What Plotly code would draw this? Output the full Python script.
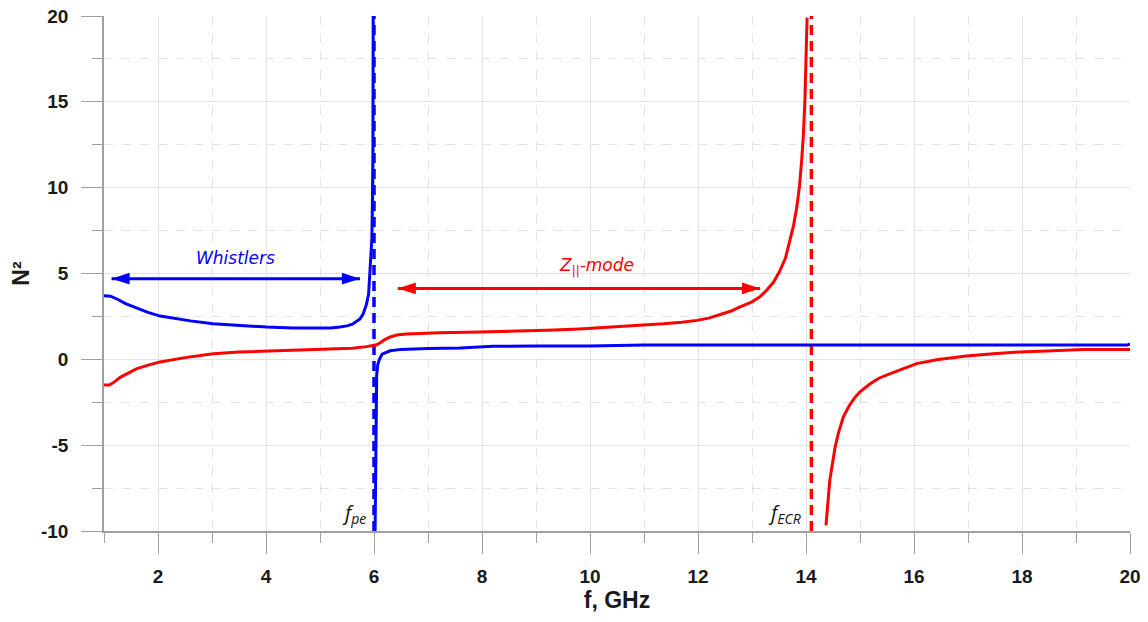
import plotly.graph_objects as go

# ---------------- data ----------------
blue_upper_f = [1.0, 1.12, 1.25, 1.4, 1.6, 1.8, 2.04, 2.3, 2.6, 3.02, 3.5, 4.02, 4.5, 4.9, 5.2,
                5.37, 5.5, 5.6, 5.68, 5.74, 5.8, 5.86, 5.9, 5.94, 5.96, 5.97, 5.98, 5.985]
blue_upper_n = [3.7, 3.68, 3.5, 3.25, 3.0, 2.75, 2.52, 2.38, 2.24, 2.07, 1.96, 1.88, 1.83, 1.81, 1.82,
                1.88, 1.95, 2.05, 2.2, 2.35, 2.65, 3.2, 3.8, 5.6, 7.0, 9.0, 12.0, 20.0]

blue_lower_f = [6.02, 6.03, 6.04, 6.05, 6.07, 6.1, 6.15, 6.24, 6.3, 6.5, 6.73, 7.0, 7.6, 8.2, 9.0,
                10.0, 11.0, 12.0, 14.0, 16.0, 18.0, 19.95, 20.0]
blue_lower_n = [-10.0, -6.0, -2.4, -0.9, -0.3, 0.0, 0.3, 0.43, 0.5, 0.58, 0.62, 0.63, 0.66, 0.76, 0.77,
                0.78, 0.84, 0.84, 0.83, 0.83, 0.83, 0.83, 0.9]

red_lower_f = [1.0, 1.1, 1.2, 1.3, 1.45, 1.6, 1.8, 2.04, 2.5, 3.02, 3.5, 4.01, 4.5, 5.0, 5.37, 5.6,
               5.86, 5.95, 6.05, 6.11, 6.2, 6.3, 6.42, 6.6, 6.85, 7.2, 7.96, 8.6, 9.2, 9.8, 10.43,
               10.9, 11.36, 11.7, 11.98, 12.2, 12.41, 12.6, 12.78, 13.0, 13.15, 13.27, 13.4, 13.52,
               13.62, 13.7, 13.77, 13.83, 13.88, 13.92, 13.95, 13.98, 14.0, 14.02]
red_lower_n = [-1.5, -1.5, -1.3, -1.05, -0.8, -0.55, -0.35, -0.15, 0.1, 0.33, 0.42, 0.48, 0.53, 0.58,
               0.6, 0.65, 0.74, 0.78, 0.85, 0.95, 1.15, 1.3, 1.42, 1.48, 1.52, 1.55, 1.59, 1.63, 1.69,
               1.77, 1.88, 1.97, 2.07, 2.16, 2.27, 2.4, 2.6, 2.8, 3.05, 3.35, 3.65, 4.02, 4.5, 5.18,
               5.9, 6.93, 7.8, 8.87, 10.1, 11.6, 13.0, 15.1, 17.5, 19.9]

red_upper_f = [14.37, 14.4, 14.44, 14.54, 14.6, 14.69, 14.8, 14.91, 15.0, 15.19, 15.35, 15.56, 15.74,
               16.05, 16.42, 16.97, 17.47, 17.96, 18.46, 19.14, 20.0]
red_upper_n = [-9.67, -8.3, -7.05, -5.1, -4.3, -3.36, -2.7, -2.2, -1.9, -1.42, -1.1, -0.83, -0.6,
               -0.25, -0.02, 0.2, 0.33, 0.43, 0.48, 0.57, 0.57]

f_pe = 6.0
f_ecr = 14.1
y_span = [-10, 20]

whistler_arrow_f = [1.14, 5.74]
whistler_arrow_n = [4.7, 4.7]
zmode_arrow_f = [6.44, 13.15]
zmode_arrow_n = [4.13, 4.13]

x_range = [1, 20]
y_range = [-10, 20]
x_tickvals = [2, 4, 6, 8, 10, 12, 14, 16, 18, 20]
x_ticktext = ["2", "4", "6", "8", "10", "12", "14", "16", "18", "20"]
y_tickvals = [-10, -5, 0, 5, 10, 15, 20]
y_ticktext = ["-10", "-5", "0", "5", "10", "15", "20"]

BLUE = "#0000ff"
RED = "#ff0000"
GRID = "#e3e3e3"
AXC = "#a0a0a0"

fig = go.Figure()

# resonance lines
fig.add_trace(go.Scatter(x=[f_pe, f_pe], y=y_span, mode="lines",
                         line=dict(color=BLUE, width=3.5, dash="10px,6px"), hoverinfo="skip"))
fig.add_trace(go.Scatter(x=[f_ecr, f_ecr], y=y_span, mode="lines",
                         line=dict(color=RED, width=3.5, dash="10px,6px"), hoverinfo="skip"))

for fx, ny, c in [(blue_upper_f, blue_upper_n, BLUE), (blue_lower_f, blue_lower_n, BLUE),
                  (red_lower_f, red_lower_n, RED), (red_upper_f, red_upper_n, RED)]:
    fig.add_trace(go.Scatter(x=fx, y=ny, mode="lines", line=dict(color=c, width=3)))

# double-headed arrows
for fx, ny, c in [(whistler_arrow_f, whistler_arrow_n, BLUE), (zmode_arrow_f, zmode_arrow_n, RED)]:
    fig.add_trace(go.Scatter(x=fx, y=ny, mode="lines", line=dict(color=c, width=3)))
fig.add_trace(go.Scatter(x=whistler_arrow_f, y=whistler_arrow_n, mode="markers",
                         marker=dict(symbol="arrow", angle=[270, 90], size=19, color=BLUE,
                                     line=dict(width=0))))
fig.add_trace(go.Scatter(x=zmode_arrow_f, y=zmode_arrow_n, mode="markers",
                         marker=dict(symbol="arrow", angle=[270, 90], size=19, color=RED,
                                     line=dict(width=0))))

ann_font = "DejaVu Sans, sans-serif"
lab_font = "Open Sans, Noto Sans, sans-serif"
fig.add_annotation(x=3.44, y=5.9, text="<i>Whistlers</i>", showarrow=False,
                   font=dict(family=ann_font, size=17, color=BLUE))
fig.add_annotation(x=10.12, y=5.42, text="<i>Z<sub>||</sub>-mode</i>", showarrow=False,
                   font=dict(family=ann_font, size=17, color=RED))
fig.add_annotation(x=f_pe, y=-9.0, text="<i>f<sub>pe</sub></i>", showarrow=False,
                   xanchor="right", xshift=-6,
                   font=dict(family=lab_font, size=20, color="#111111"))
fig.add_annotation(x=f_ecr, y=-9.0, text="<i>f<sub>ECR</sub></i>", showarrow=False,
                   xanchor="right", xshift=-8,
                   font=dict(family=lab_font, size=20, color="#111111"))

tick_font = dict(family="Arial, Liberation Sans, sans-serif", size=19, color="#1a1a1a", weight="bold")
title_font = dict(family="Arial, Liberation Sans, sans-serif", size=23, color="#1a1a1a", weight="bold")

fig.update_xaxes(range=x_range, tickvals=x_tickvals, ticktext=x_ticktext, automargin=False,
                 showline=True, linecolor=AXC, linewidth=1.5, ticklabeloverflow="allow",
                 ticks="outside", ticklen=21, tickcolor=AXC, tickwidth=1,
                 showgrid=True, gridcolor=GRID, gridwidth=1, zeroline=False,
                 tickfont=tick_font, ticklabelstandoff=6,
                 minor=dict(dtick=1, tick0=0, ticks="outside", ticklen=10, tickcolor=AXC,
                            showgrid=True, gridcolor=GRID, griddash="dash"),
                 title=dict(text="f, GHz", font=title_font, standoff=6))
fig.update_yaxes(range=y_range, tickvals=y_tickvals, ticktext=y_ticktext, automargin=False,
                 showline=True, linecolor=AXC, linewidth=1.5, ticklabeloverflow="allow",
                 ticks="outside", ticklen=21, tickcolor=AXC, tickwidth=1,
                 showgrid=True, gridcolor=GRID, gridwidth=1, zeroline=False,
                 tickfont=tick_font, ticklabelstandoff=9,
                 minor=dict(dtick=2.5, tick0=0, ticks="outside", ticklen=10, tickcolor=AXC,
                            showgrid=True, gridcolor=GRID, griddash="dash"),
                 title=dict(text="N²", font=title_font, standoff=14))

# the page body has an 8 px margin; size the figure so the plot area lands where the reference has it
fig.update_layout(width=1140, height=614, margin=dict(l=96, r=18, t=8, b=91),
                  plot_bgcolor="white", paper_bgcolor="white", showlegend=False)

fig.write_html("out.html")
